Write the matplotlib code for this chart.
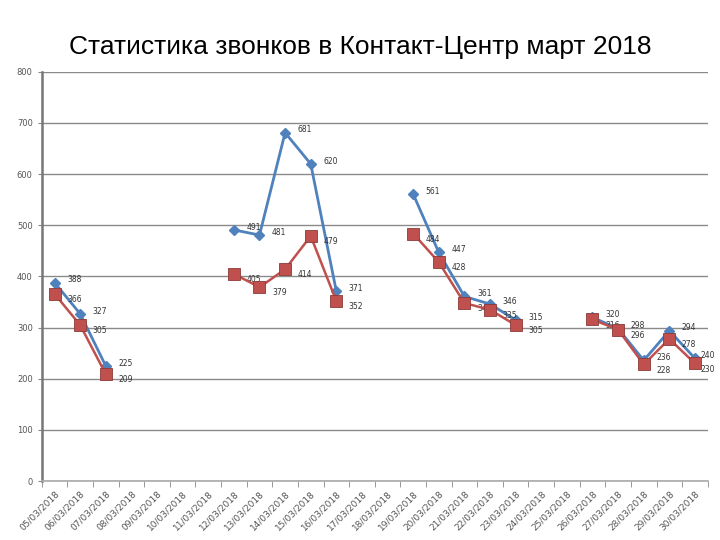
import numpy as np
import matplotlib
matplotlib.use("Agg")
import matplotlib.pyplot as plt
from matplotlib.ticker import FixedLocator

# категории (даты марта 2018)
dates = ["%02d/03/2018" % d for d in range(5, 31)]

nan = np.nan
# серия 1 (синяя) и серия 2 (красная), пропуски = NaN
calls_in = [388, 327, 225, nan, nan, nan, nan, 491, 481, 681, 620, 371, nan, nan,
            561, 447, 361, 346, 315, nan, nan, 320, 298, 236, 294, 240]
calls_ans = [366, 305, 209, nan, nan, nan, nan, 405, 379, 414, 479, 352, nan, nan,
             484, 428, 348, 335, 305, nan, nan, 316, 296, 228, 278, 230]

blue = "#4F81BD"
red = "#C0504D"

fig = plt.figure(figsize=(7.2, 5.4), dpi=100)
fig.text(0.5, 0.913, "Статистика звонков в Контакт-Центр март 2018",
         ha="center", va="center", fontsize=19,
         family=["Liberation Sans Narrow", "Liberation Sans", "DejaVu Sans"])

ax = fig.add_axes([0.058, 0.109, 0.925, 0.758])
x = np.arange(len(dates))

ax.plot(x, calls_in, color=blue, lw=2, marker="D", ms=5, mec=blue, zorder=3)
ax.plot(x, calls_ans, color=red, lw=1.8, marker="s", ms=8, mec="#8c3a38",
        mew=0.6, zorder=4)

last = len(dates) - 1
for xi, v in zip(x, calls_in):
    if not np.isnan(v):
        dx = 4 if xi == last else 9
        ax.annotate("%d" % v, (xi, v), xytext=(dx, 2), textcoords="offset points",
                    fontsize=5.5, color="#333333", va="center")
for xi, v in zip(x, calls_ans):
    if not np.isnan(v):
        dx = 4 if xi == last else 9
        ax.annotate("%d" % v, (xi, v), xytext=(dx, -4), textcoords="offset points",
                    fontsize=5.5, color="#333333", va="center")

ax.set_xlim(-0.5, len(dates) - 0.5)
ax.set_ylim(0, 800)
ax.set_yticks(range(0, 801, 100))
ax.tick_params(axis="y", labelsize=6, labelcolor="#555555", length=3,
               color="#888888")
ax.yaxis.grid(True, color="#8a8a8a", lw=1)
ax.set_axisbelow(True)

ax.set_xticks(x)
ax.set_xticklabels(dates, rotation=45, ha="right", rotation_mode="anchor",
                   fontsize=6.5, color="#555555")
ax.tick_params(axis="x", which="major", length=0, pad=6)
ax.xaxis.set_minor_locator(FixedLocator(np.arange(-0.5, len(dates), 1)))
ax.tick_params(axis="x", which="minor", length=4, color="#888888")

for s in ["top", "right"]:
    ax.spines[s].set_visible(False)
ax.spines["left"].set_color("#777777")
ax.spines["left"].set_linewidth(1.8)
ax.spines["bottom"].set_color("#aaaaaa")
ax.spines["bottom"].set_linewidth(1.2)

fig.savefig("out.png", dpi=100)
